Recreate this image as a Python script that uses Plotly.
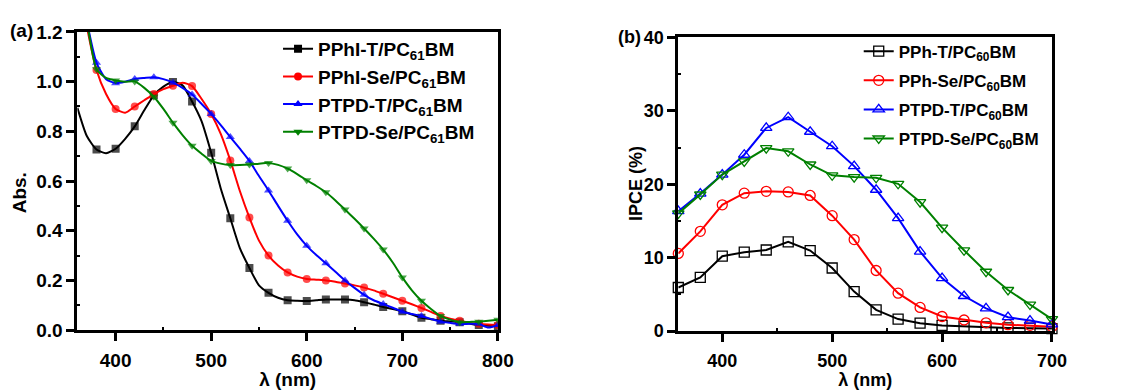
import plotly.graph_objects as go

# ---------------- Panel (a): absorption spectra ----------------
wl_a = [360, 370, 380, 390, 400, 410, 420, 430, 440, 450, 460, 470, 480, 490, 500,
        510, 520, 530, 540, 550, 560, 570, 580, 590, 600, 610, 620, 630, 640, 650,
        660, 670, 680, 690, 700, 710, 720, 730, 740, 750, 760, 770, 780, 790, 800]

abs_pphi_t = [0.895, 0.78, 0.727, 0.712, 0.73, 0.77, 0.82, 0.885, 0.945, 0.98, 0.999, 0.985, 0.92, 0.84, 0.714,
              0.57, 0.45, 0.33, 0.25, 0.18, 0.15, 0.13, 0.12, 0.118, 0.117, 0.12, 0.123, 0.123, 0.123, 0.12,
              0.112, 0.103, 0.093, 0.085, 0.076, 0.063, 0.05, 0.044, 0.038, 0.035, 0.032, 0.026, 0.02, 0.017, 0.015]

abs_pphi_se = [1.45, 1.22, 1.047, 0.95, 0.89, 0.875, 0.90, 0.925, 0.95, 0.97, 0.983, 0.996, 0.982, 0.93, 0.87,
               0.79, 0.683, 0.56, 0.453, 0.36, 0.30, 0.26, 0.232, 0.215, 0.206, 0.203, 0.20, 0.195, 0.187, 0.18,
               0.171, 0.16, 0.146, 0.132, 0.118, 0.104, 0.089, 0.073, 0.057, 0.046, 0.038, 0.03, 0.025, 0.022, 0.02]

abs_ptpd_t = [1.45, 1.24, 1.076, 1.01, 0.994, 1.0, 1.011, 1.015, 1.018, 1.01, 0.996, 0.975, 0.948, 0.91, 0.87,
              0.825, 0.777, 0.73, 0.681, 0.62, 0.562, 0.50, 0.44, 0.385, 0.339, 0.302, 0.269, 0.235, 0.2, 0.17,
              0.142, 0.12, 0.105, 0.09, 0.074, 0.065, 0.057, 0.045, 0.034, 0.029, 0.025, 0.025, 0.025, 0.01, 0.02]

abs_ptpd_se = [1.45, 1.24, 1.05, 1.015, 1.005, 1.0, 1.001, 0.975, 0.939, 0.89, 0.835, 0.785, 0.742, 0.71, 0.681,
               0.67, 0.664, 0.664, 0.666, 0.67, 0.673, 0.665, 0.65, 0.628, 0.603, 0.58, 0.555, 0.522, 0.485, 0.448,
               0.409, 0.368, 0.324, 0.272, 0.212, 0.16, 0.118, 0.085, 0.057, 0.042, 0.032, 0.033, 0.034, 0.038, 0.042]

# ---------------- Panel (b): IPCE ----------------
wl_b = [360, 380, 400, 420, 440, 460, 480, 500, 520, 540, 560, 580, 600, 620, 640, 660, 680, 700]
ipce_pph_t = [5.93, 7.3, 10.2, 10.74, 11.04, 12.16, 10.96, 8.59, 5.37, 2.88, 1.63, 1.07, 0.77, 0.64, 0.56, 0.43, 0.39, 0.34]
ipce_pph_se = [10.57, 13.58, 17.19, 18.78, 19.03, 18.95, 18.47, 15.72, 12.46, 8.25, 5.16, 3.22, 1.98, 1.5, 1.12, 0.86, 0.77, 0.6]
ipce_ptpd_t = [16.33, 18.73, 21.31, 24.02, 27.67, 29.13, 27.15, 25.18, 22.47, 19.25, 15.38, 10.83, 7.22, 4.77, 3.09, 1.89, 1.42, 0.9]
ipce_ptpd_se = [16.03, 18.6, 21.31, 23.11, 24.92, 24.49, 22.69, 21.22, 20.97, 20.88, 20.06, 17.57, 14.09, 11.0, 8.08, 5.59, 3.61, 1.63]

names_a = ["PPhI-T/PC<sub>61</sub>BM", "PPhI-Se/PC<sub>61</sub>BM",
           "PTPD-T/PC<sub>61</sub>BM", "PTPD-Se/PC<sub>61</sub>BM"]
names_b = ["PPh-T/PC<sub>60</sub>BM", "PPh-Se/PC<sub>60</sub>BM",
           "PTPD-T/PC<sub>60</sub>BM", "PTPD-Se/PC<sub>60</sub>BM"]

colors = ["#000000", "#ff0000", "#0000ff", "#008000"]
sym_a = ["square", "circle", "triangle-up", "triangle-down"]
sym_b = ["square-open", "circle-open", "triangle-up-open", "triangle-down-open"]

FONT = "Liberation Sans, Arial, sans-serif"
FS_A = 19
FS_B = 18
FS_LB = 17

fig = go.Figure()

series_a = [abs_pphi_t, abs_pphi_se, abs_ptpd_t, abs_ptpd_se]
msize = [8 if (w % 20 == 0 and w >= 380) else 0 for w in wl_a]
for i, (ys, nm, c, s) in enumerate(zip(series_a, names_a, colors, sym_a)):
    fig.add_trace(go.Scatter(x=wl_a, y=ys, mode="lines+markers", showlegend=False,
                             line=dict(color=c, width=2, shape="spline", smoothing=0.6),
                             marker=dict(symbol=s, size=msize, color=c, line=dict(width=0)),
                             xaxis="x", yaxis="y", cliponaxis=True))
    fig.add_trace(go.Scatter(x=[None], y=[None], mode="lines+markers", name=nm, legend="legend",
                             legendgroup="a%d" % i,
                             line=dict(color=c, width=2),
                             marker=dict(symbol=s, size=8, color=c, line=dict(width=0)),
                             xaxis="x", yaxis="y"))

series_b = [ipce_pph_t, ipce_pph_se, ipce_ptpd_t, ipce_ptpd_se]
for i, (ys, nm, c, s) in enumerate(zip(series_b, names_b, colors, sym_b)):
    fig.add_trace(go.Scatter(x=wl_b, y=ys, mode="lines+markers", name=nm, legend="legend2",
                             legendgroup="b%d" % i,
                             line=dict(color=c, width=2),
                             marker=dict(symbol=s, size=10, color=c, line=dict(width=1.3, color=c)),
                             xaxis="x2", yaxis="y2", cliponaxis=False))


def axis_common(fs):
    return dict(showline=True, linecolor="black", linewidth=3, mirror=True,
                ticks="outside", ticklen=8, tickwidth=3, tickcolor="black",
                showgrid=False, zeroline=False,
                tickfont=dict(family=FONT, size=fs, color="black", weight="bold"))


def minor(vals):
    return dict(ticks="inside", ticklen=3, tickwidth=1.5, tickcolor="black", tickvals=vals)


def title(text, standoff, fs):
    return dict(text=text, standoff=standoff, font=dict(family=FONT, size=fs, weight="bold"))


def label(text, x, y, fs, anchor="center", angle=0):
    return dict(text=text, x=x / W, y=(H - y) / H, xref="paper", yref="paper", showarrow=False,
                xanchor=anchor, yanchor="middle", textangle=angle,
                font=dict(family=FONT, size=fs, color="black", weight="bold"))


W, H = 1136, 390
fig.update_layout(
    width=W, height=H,
    margin=dict(l=0, r=0, t=0, b=0),
    paper_bgcolor="white", plot_bgcolor="white",
    font=dict(family=FONT, size=FS_A, color="black", weight="bold"),
    xaxis=dict(domain=[78.5 / W, 505 / W], range=[360, 800],
               tickvals=[400, 500, 600, 700, 800], minor=minor([450, 550, 650, 750]),
               ticklabelstandoff=3,
               title=title("λ (nm)", 0, FS_A), **axis_common(FS_A)),
    yaxis=dict(domain=[(H - 338.3) / H, (H - 23.2) / H], range=[0, 1.2],
               tickvals=[0, 0.2, 0.4, 0.6, 0.8, 1.0, 1.2], tickformat=".1f",
               minor=minor([0.1, 0.3, 0.5, 0.7, 0.9, 1.1]), **axis_common(FS_A)),
    xaxis2=dict(domain=[688 / W, 1067 / W], range=[360, 700], anchor="y2",
                tickvals=[400, 500, 600, 700], minor=minor([450, 550, 650]),
                ticklabelstandoff=3,
                title=title("λ (nm)", 1, FS_B), **axis_common(FS_B)),
    yaxis2=dict(domain=[(H - 339.3) / H, (H - 29) / H], range=[0, 40], anchor="x2",
                tickvals=[0, 10, 20, 30, 40], minor=minor([5, 15, 25, 35]), **axis_common(FS_B)),
    legend=dict(x=282 / W, y=(H - 21) / H, xanchor="left", yanchor="top",
                traceorder="grouped", tracegroupgap=0,
                bgcolor="rgba(0,0,0,0)", borderwidth=0,
                font=dict(family=FONT, size=FS_A, color="black", weight="bold")),
    legend2=dict(x=871 / W, y=(H - 25) / H, xanchor="left", yanchor="top",
                 traceorder="grouped", tracegroupgap=4,
                 bgcolor="rgba(0,0,0,0)", borderwidth=0,
                 font=dict(family=FONT, size=FS_LB, color="black", weight="bold")),
    annotations=[
        label("(a)", 36, 22, FS_A, "right"),
        label("(b)", 652, 29, FS_B, "right"),
        label("Abs.", 20, 193, FS_A, "center", -90),
        label("IPCE (%)", 645, 183, FS_B, "center", -90),
    ],
)

fig.write_html("out.html")
